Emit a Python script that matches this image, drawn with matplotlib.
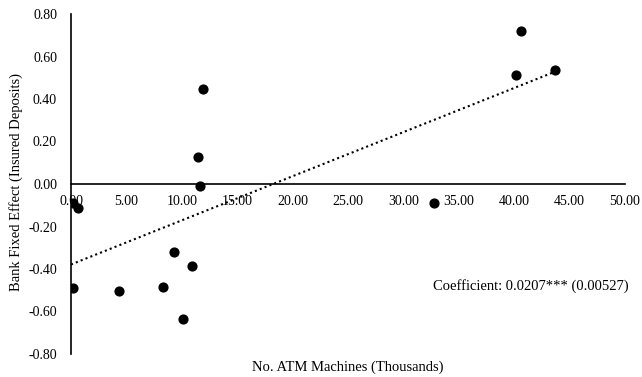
import matplotlib
matplotlib.use("Agg")
import matplotlib.pyplot as plt
import numpy as np

atm_thousands = [0.15, 0.6, 0.15, 4.35, 8.3, 9.3, 10.9, 10.1, 11.6, 11.5, 11.9, 32.8, 40.2, 40.6, 43.7]
fixed_effect = [-0.09, -0.114, -0.488, -0.503, -0.484, -0.318, -0.387, -0.636, -0.009, 0.126, 0.447, -0.091, 0.514, 0.72, 0.536]
x_ticks = [0, 5, 10, 15, 20, 25, 30, 35, 40, 45, 50]
y_ticks = [-0.8, -0.6, -0.4, -0.2, 0.0, 0.2, 0.4, 0.6, 0.8]
coef_text = "Coefficient: 0.0207*** (0.00527)"

plt.rcParams['font.family'] = ['Liberation Serif', 'DejaVu Serif']
fs_tick = 10
fs_lab = 10.5

fig = plt.figure(figsize=(6.42, 3.77), dpi=100)
ax = fig.add_axes([71/642, 1 - 354/377, 554/642, 340/377])

ax.scatter(atm_thousands, fixed_effect, s=40, color='black', zorder=3)

x = np.array(atm_thousands)
y = np.array(fixed_effect)
slope, intercept = np.polyfit(x, y, 1)
xx = np.array([0, x.max()])
ax.plot(xx, intercept + slope * xx, linestyle=(0, (1, 1.5)), color='black', linewidth=1.5)

ax.set_xlim(0, 50)
ax.set_ylim(-0.8, 0.8)
ax.set_xticks(x_ticks)
ax.set_xticklabels([f"{v:.2f}" for v in x_ticks], fontsize=fs_tick)
ax.set_yticks(y_ticks)
ax.set_yticklabels([f"{v:.2f}" for v in y_ticks], fontsize=fs_tick)
ax.spines['top'].set_visible(False)
ax.spines['right'].set_visible(False)
ax.spines['bottom'].set_position(('data', 0))
ax.spines['left'].set_linewidth(1.2)
ax.spines['bottom'].set_linewidth(1.2)
ax.tick_params(axis='both', length=0)
ax.tick_params(axis='y', pad=10)
ax.tick_params(axis='x', pad=8)

fig.text(629/642, 1 - 286/377, coef_text, fontsize=fs_lab, ha='right', va='center')
fig.text(347.5/642, 1 - 367/377, "No. ATM Machines (Thousands)", fontsize=fs_lab, ha='center', va='center')
fig.text(16/642, 1 - 182/377, "Bank Fixed Effect (Insured Deposits)", fontsize=fs_lab, ha='center', va='center', rotation=90)

fig.savefig("out.png", dpi=100)
